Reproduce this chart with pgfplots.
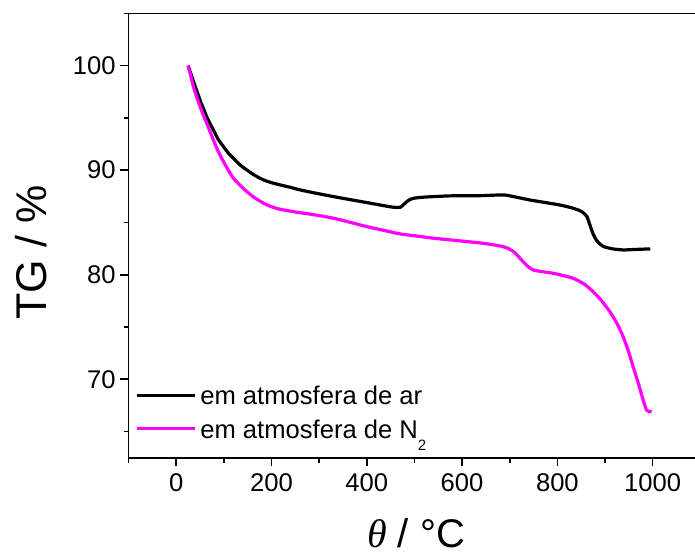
\documentclass[border=0pt]{standalone}
\usepackage{fontspec}
\setmainfont{Liberation Sans}
\newfontfamily\serifit{Liberation Serif}
\usepackage{pgfplots}
\pgfplotsset{compat=1.18}
\definecolor{tgmag}{RGB}{255,0,255}
\begin{document}
\begin{tikzpicture}
\useasboundingbox (-64.3pt,-48.15pt) rectangle (283.2pt,228.85pt);
\begin{axis}[
  scale only axis, width=285.85pt, height=222.2pt,
  xmin=-100, xmax=1100, ymin=62.5, ymax=105,
  xtick={0,200,...,1000}, ytick={70,80,90,100},
  minor xtick={-100,100,300,500,700,900,1100},
  minor ytick={65,75,85,95,105},
  tick align=outside, xtick pos=bottom, ytick pos=left,
  major tick length=4.2pt, minor tick length=2.5pt,
  axis line style={line width=0.8pt},
  every tick/.style={line width=0.8pt, black},
  /pgf/number format/assume math mode=true,
  /pgf/number format/1000 sep={},
  tick label style={font=\fontsize{12.8}{15}\selectfont},
  yticklabel style={xshift=1.2pt},
  xlabel={{\serifit\itshape θ} / °C},
  xlabel style={font=\fontsize{20}{24}\selectfont, at={(axis description cs:0.5027,-0.2027)}, anchor=base},
  ylabel={TG / \%},
  ylabel style={font=\fontsize{21.5}{25}\selectfont, at={(axis description cs:-0.1707,0.4617)}, anchor=center},
  legend image code/.code={\draw[#1] (0pt,0pt) -- (29.2pt,0pt);},
  legend cell align=left,
  legend style={draw=none, fill=none, inner sep=0pt,
    at={(axis description cs:0.01057,0.162)}, anchor=north west,
    font=\fontsize{12.8}{15}\selectfont,
    nodes={inner xsep=1.83pt, inner ysep=0pt, text height=9.3pt, text depth=0pt},
    row sep=7.35pt},
]
\addplot[black, line width=1.6pt, smooth, tension=0.4] coordinates {
(25,100.0) (30,99.3) (36,98.5) (43,97.6) (50,96.7) (57,95.9) (64,95.1) (71,94.45)
(78,93.85) (88,92.95) (99,92.25) (110,91.6) (120,91.14) (134,90.5) (148,90.02)
(165,89.5) (183,89.07) (200,88.8) (218,88.59) (240,88.35) (260,88.11) (295,87.78)
(330,87.47) (365,87.18) (400,86.9) (430,86.65) (456,86.45) (470,86.45) (477,86.7)
(484,86.99) (491,87.2) (498,87.31) (520,87.42) (575,87.54) (638,87.56) (687,87.63)
(710,87.45) (742,87.15) (775,86.9) (805,86.67) (830,86.4) (847,86.13) (855,85.9)
(862,85.56) (868,84.8) (875,83.9) (882,83.3) (890,82.9) (897,82.69) (915,82.48)
(938,82.37) (965,82.42) (995,82.47)
};
\addlegendentry{em atmosfera de ar}
\addplot[tgmag, line width=1.6pt, smooth, tension=0.4] coordinates {
(25,100.0) (30,99.1) (36,98.0) (43,97.0) (50,96.08) (57,95.25) (64,94.49) (71,93.68)
(78,92.89) (88,91.8) (99,90.82) (110,89.95) (120,89.23) (134,88.55) (148,87.95)
(165,87.35) (183,86.84) (200,86.5) (218,86.26) (250,86.0) (280,85.8) (310,85.58)
(340,85.3) (370,84.95) (400,84.6) (435,84.25) (470,83.9) (505,83.7) (540,83.49) (575,83.33)
(610,83.17) (645,83.0) (680,82.75) (695,82.55) (708,82.21) (718,81.75) (728,81.25)
(738,80.8) (749,80.46) (770,80.28) (791,80.14) (812,79.92) (833,79.66) (855,79.15)
(875,78.38) (893,77.5) (910,76.47) (925,75.35) (938,74.08) (949,72.7) (959,71.21)
(970,69.6) (980,68.02) (987,67.06) (992,66.92) (998,66.9)
};
\addlegendentry{em atmosfera de N\raisebox{-6pt}{\fontsize{7.5}{8}\selectfont 2}}
\end{axis}
\end{tikzpicture}
\end{document}
